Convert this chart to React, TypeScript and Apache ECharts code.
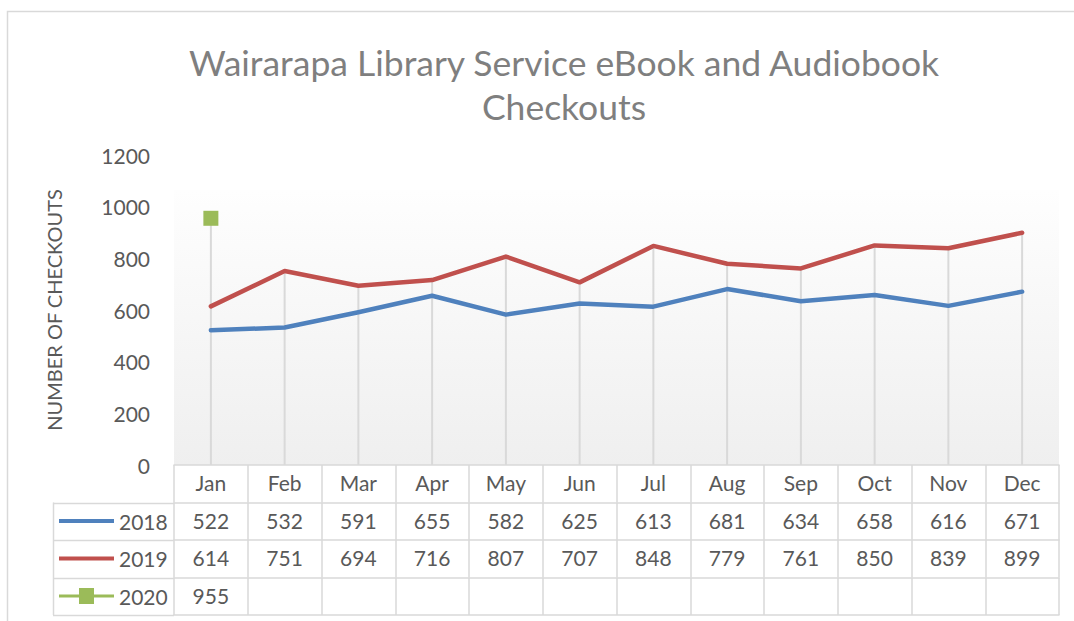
import React, { useEffect, useRef } from "react";
import * as echarts from "echarts";

const months = ["Jan", "Feb", "Mar", "Apr", "May", "Jun", "Jul", "Aug", "Sep", "Oct", "Nov", "Dec"];
const seriesNames = ["2018", "2019", "2020"];
const y2018 = [522, 532, 591, 655, 582, 625, 613, 681, 634, 658, 616, 671];
const y2019 = [614, 751, 694, 716, 807, 707, 848, 779, 761, 850, 839, 899];
const y2020: (number | null)[] = [955, null, null, null, null, null, null, null, null, null, null, null];
const yMin = 0;
const yMax = 1200;
const yInterval = 200;

const titleText = "Wairarapa Library Service eBook and Audiobook\nCheckouts";
const yAxisName = "NUMBER OF CHECKOUTS";

const FONT = "Lato";
const TEXT = "#595959";
const BORDER = "#d9d9d9";

const LINE_ICON = "path://M0,6L55,6L55,10L0,10Z";
const MARKER_ICON = "path://M0,6.5L20,6.5L20,0L35,0L35,6.5L55,6.5L55,9.5L35,9.5L35,16L20,16L20,9.5L0,9.5Z";

export default function App() {
  const ref = useRef<HTMLDivElement>(null);
  useEffect(() => {
    if (!ref.current) return;
    const chart = echarts.init(ref.current, null, { renderer: "svg" });

    const gridLeft = 174;
    const gridRight = 15;
    const gridTop = 155;
    const gridBottom = 156;
    const axisY = 621 - gridBottom;
    const rowH = 37.5;
    const legendLeft = 53;

    const rowLabel = (arr: (number | null)[]) => arr.map((v) => (v == null ? "" : String(v)));
    const dropValues = months.map((_, i) =>
      Math.max(...([y2018[i], y2019[i], y2020[i]].filter((v) => v != null) as number[]))
    );

    const tableAxis = (data: string[], offset: number, showTicks: boolean, showLabel: boolean) => ({
      type: "category",
      gridIndex: 0,
      position: "bottom",
      offset,
      data,
      boundaryGap: true,
      axisLine: { show: true, lineStyle: { color: BORDER, width: 1.5 } },
      axisTick: { show: showTicks, length: rowH, interval: 0, lineStyle: { color: BORDER, width: 1.5 } },
      axisLabel: { show: showLabel, interval: 0, fontSize: 21, color: TEXT, fontFamily: FONT, margin: 7 },
      splitLine: { show: false },
    });

    const lineGraphics: any[] = [];
    for (let r = 1; r <= 4; r++) {
      const y = Math.round(axisY + rowH * r) + 0.5;
      lineGraphics.push({
        type: "line",
        shape: { x1: legendLeft, y1: y, x2: gridLeft, y2: y },
        style: { stroke: BORDER, lineWidth: 1.5 },
        silent: true,
      });
    }
    lineGraphics.push({
      type: "line",
      shape: { x1: legendLeft + 0.5, y1: axisY + rowH, x2: legendLeft + 0.5, y2: axisY + rowH * 4 },
      style: { stroke: BORDER, lineWidth: 1.5 },
      silent: true,
    });

    chart.setOption({
      animation: false,
      backgroundColor: "#ffffff",
      textStyle: { fontFamily: FONT },
      graphic: [
        {
          type: "rect",
          shape: { x: 7.5, y: 11.5, width: 1100, height: 700 },
          style: { fill: "none", stroke: BORDER, lineWidth: 1.5 },
          silent: true,
          z: -10,
        },
        {
          type: "text",
          x: 564,
          y: 40,
          style: {
            text: titleText,
            fill: "#7f7f7f",
            fontSize: 35.5,
            fontFamily: FONT,
            textAlign: "center",
            textVerticalAlign: "top",
            lineHeight: 44,
          },
        },
        ...lineGraphics,
      ],
      legend: {
        data: [
          { name: seriesNames[0], icon: LINE_ICON },
          { name: seriesNames[1], icon: LINE_ICON },
          { name: seriesNames[2], icon: MARKER_ICON },
        ],
        orient: "vertical",
        left: legendLeft + 6,
        top: axisY + rowH + 6,
        itemGap: 12.5,
        itemWidth: 55,
        itemHeight: 16,
        symbolKeepAspect: true,
        padding: 0,
        textStyle: { fontSize: 21, color: TEXT, fontFamily: FONT, lineHeight: 25 },
        selectedMode: false,
      },
      grid: {
        left: gridLeft,
        right: gridRight,
        top: gridTop,
        bottom: gridBottom,
        show: true,
        borderWidth: 0,
        backgroundColor: {
          type: "linear",
          x: 0,
          y: 0,
          x2: 0,
          y2: 1,
          colorStops: [
            { offset: 0, color: "#ffffff" },
            { offset: 0.112, color: "#ffffff" },
            { offset: 0.113, color: "#fefefe" },
            { offset: 1, color: "#efefef" },
          ],
        },
      },
      xAxis: [
        tableAxis(months, 0, true, true),
        tableAxis(rowLabel(y2018), rowH, true, true),
        tableAxis(rowLabel(y2019), rowH * 2, true, true),
        tableAxis(rowLabel(y2020), rowH * 3, true, true),
        tableAxis(months, rowH * 4, false, false),
      ],
      yAxis: {
        type: "value",
        min: yMin,
        max: yMax,
        interval: yInterval,
        name: yAxisName,
        nameLocation: "middle",
        nameGap: 110,
        nameTextStyle: { fontSize: 20, color: TEXT, fontFamily: FONT },
        axisLine: { show: false },
        axisTick: { show: false },
        splitLine: { show: false },
        axisLabel: {
          fontSize: 21,
          color: TEXT,
          fontFamily: FONT,
          margin: 24,
          formatter: (v: number) => String(v),
        },
      },
      series: [
        {
          name: "drop",
          type: "bar",
          data: dropValues,
          barWidth: 2,
          itemStyle: { color: BORDER },
          silent: true,
          z: 1,
        },
        {
          name: "2018",
          type: "line",
          data: y2018,
          symbol: "none",
          color: "#4f81bd",
          lineStyle: { width: 4.5, color: "#4f81bd", cap: "round", join: "round" },
          z: 3,
        },
        {
          name: "2019",
          type: "line",
          data: y2019,
          symbol: "none",
          color: "#c0504d",
          lineStyle: { width: 4.5, color: "#c0504d", cap: "round", join: "round" },
          z: 3,
        },
        {
          name: "2020",
          type: "line",
          data: y2020,
          symbol: "rect",
          symbolSize: 15,
          showSymbol: true,
          color: "#9bbb59",
          itemStyle: { color: "#9bbb59" },
          lineStyle: { width: 4.5, color: "#9bbb59" },
          z: 4,
        },
      ],
    });
    return () => chart.dispose();
  }, []);
  return (
    <div
      ref={ref}
      style={{ position: "fixed", left: 0, top: 0, width: 1074, height: 621, background: "#fff" }}
    />
  );
}
